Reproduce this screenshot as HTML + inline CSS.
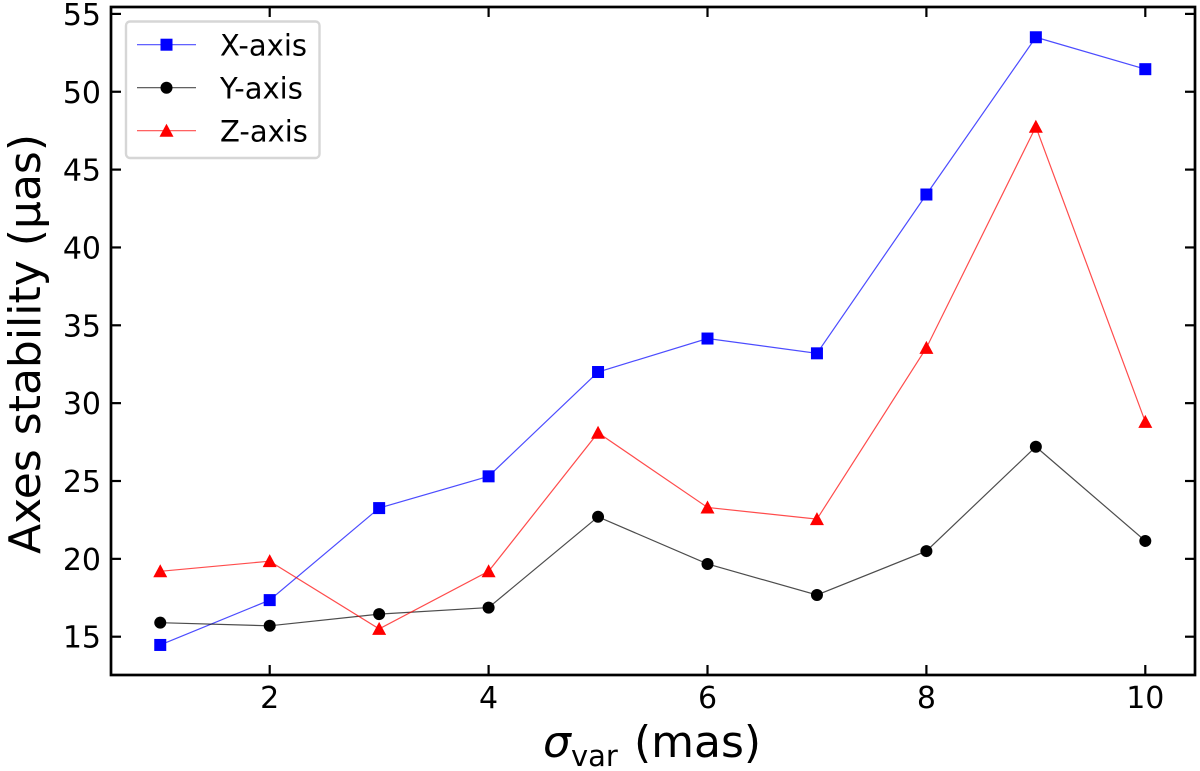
<!DOCTYPE html>
<html>
<head>
<meta charset="utf-8">
<style>
html,body{margin:0;padding:0;background:#fff}
svg{display:block}
text{font-family:"DejaVu Sans",sans-serif;fill:#000}
</style>
</head>
<body>
<svg id="chart" width="1200" height="771" viewBox="0 0 1200 771" xmlns="http://www.w3.org/2000/svg">
<rect width="1200" height="771" fill="#fff"/>
<g id="series"></g>
<g id="axes"></g>
<text transform="translate(40,344) rotate(-90)" text-anchor="middle" font-size="44">Axes stability (µas)</text>
<text y="757" font-size="44"><tspan x="543" font-style="italic">σ</tspan><tspan x="571" y="766" font-size="29">var</tspan><tspan x="634" y="757">(mas)</tspan></text>
<g id="legend">
<rect x="126" y="21.5" width="193.5" height="136.5" rx="4" fill="#fff" stroke="#d6d6d6" stroke-width="2.4"/>
</g>
</svg>
<script>
const sigma = [1, 2, 3, 4, 5, 6, 7, 8, 9, 10];
const xAxisValues = [14.47, 17.35, 23.26, 25.3, 32.0, 34.15, 33.2, 43.4, 53.5, 51.45];
const yAxisValues = [15.9, 15.7, 16.45, 16.87, 22.7, 19.67, 17.68, 20.5, 27.2, 21.15];
const zAxisValues = [19.2, 19.85, 15.5, 19.2, 28.1, 23.3, 22.55, 33.55, 47.75, 28.8];
const xTicks = [2, 4, 6, 8, 10];
const yTicks = [15, 20, 25, 30, 35, 40, 45, 50, 55];

const NS = 'http://www.w3.org/2000/svg';
const L = 111, R = 1195, T = 7, B = 675;
function sx(v) { return 269.7 + (v - 2) * 109.45; }
function sy(v) { return 636.7 - (v - 15) * 15.57; }
function mk(tag, attrs, parent) {
  const el = document.createElementNS(NS, tag);
  for (const k in attrs) el.setAttribute(k, attrs[k]);
  parent.appendChild(el);
  return el;
}
function marker(kind, cx, cy, color, parent) {
  let el;
  if (kind === 'square') {
    el = mk('rect', { x: cx - 6, y: cy - 6, width: 12, height: 12, fill: color }, parent);
  } else if (kind === 'circle') {
    el = mk('circle', { cx: cx, cy: cy, r: 6, fill: color }, parent);
  } else {
    el = mk('polygon', { points: (cx) + ',' + (cy - 7) + ' ' + (cx + 7) + ',' + (cy + 6) + ' ' + (cx - 7) + ',' + (cy + 6), fill: color }, parent);
  }
  return el;
}

const seriesLayer = document.getElementById('series');
const seriesDefs = [
  { key: 'x', vals: xAxisValues, color: '#0000ff', kind: 'square' },
  { key: 'y', vals: yAxisValues, color: '#000000', kind: 'circle' },
  { key: 'z', vals: zAxisValues, color: '#ff0000', kind: 'triangle' }
];
seriesDefs.forEach(function (s) {
  const pts = s.vals.map(function (v, i) { return sx(sigma[i]) + ',' + sy(v); }).join(' ');
  const line = mk('polyline', { points: pts, fill: 'none', stroke: s.color, 'stroke-width': 1.2, 'stroke-opacity': 0.7 }, seriesLayer);
  
  
  s.vals.forEach(function (v, i) {
    const m = marker(s.kind, sx(sigma[i]), sy(v), s.color, seriesLayer);
    
    
  });
});

const axes = document.getElementById('axes');
const frame = mk('rect', { x: L, y: T, width: R - L, height: B - T, fill: 'none', stroke: '#000', 'stroke-width': 2.7 }, axes);


xTicks.forEach(function (t) {
  const x = sx(t);
  const b = mk('line', { x1: x, x2: x, y1: B, y2: B - 10, stroke: '#000', 'stroke-width': 2.2 }, axes);
  
  
  const u = mk('line', { x1: x, x2: x, y1: T, y2: T + 10, stroke: '#000', 'stroke-width': 2.2 }, axes);
  
  
  const lab = mk('text', { x: x, y: 708, 'text-anchor': 'middle', 'font-size': 30 }, axes);
  lab.textContent = t;
  
  
});
yTicks.forEach(function (t) {
  const y = sy(t);
  const l = mk('line', { x1: L, x2: L + 10, y1: y, y2: y, stroke: '#000', 'stroke-width': 2.2 }, axes);
  
  
  const r = mk('line', { x1: R, x2: R - 10, y1: y, y2: y, stroke: '#000', 'stroke-width': 2.2 }, axes);
  
  
  const lab = mk('text', { x: 101, y: y + 11, 'text-anchor': 'end', 'font-size': 30 }, axes);
  lab.textContent = t;
  
  
});

const legend = document.getElementById('legend');
const legendLabels = ['X-axis', 'Y-axis', 'Z-axis'];
legendLabels.forEach(function (name, i) {
  const s = seriesDefs[i];
  const y = 44.7 + i * 43;
  const ln = mk('line', { x1: 137, x2: 196, y1: y, y2: y, stroke: s.color, 'stroke-width': 1.2, 'stroke-opacity': 0.7 }, legend);
  
  
  const m = marker(s.kind, 166.5, y, s.color, legend);
  
  
  const t = mk('text', { x: 220, y: y + 11, 'font-size': 29 }, legend);
  t.textContent = name;
  
  
});
</script>
</body>
</html>
